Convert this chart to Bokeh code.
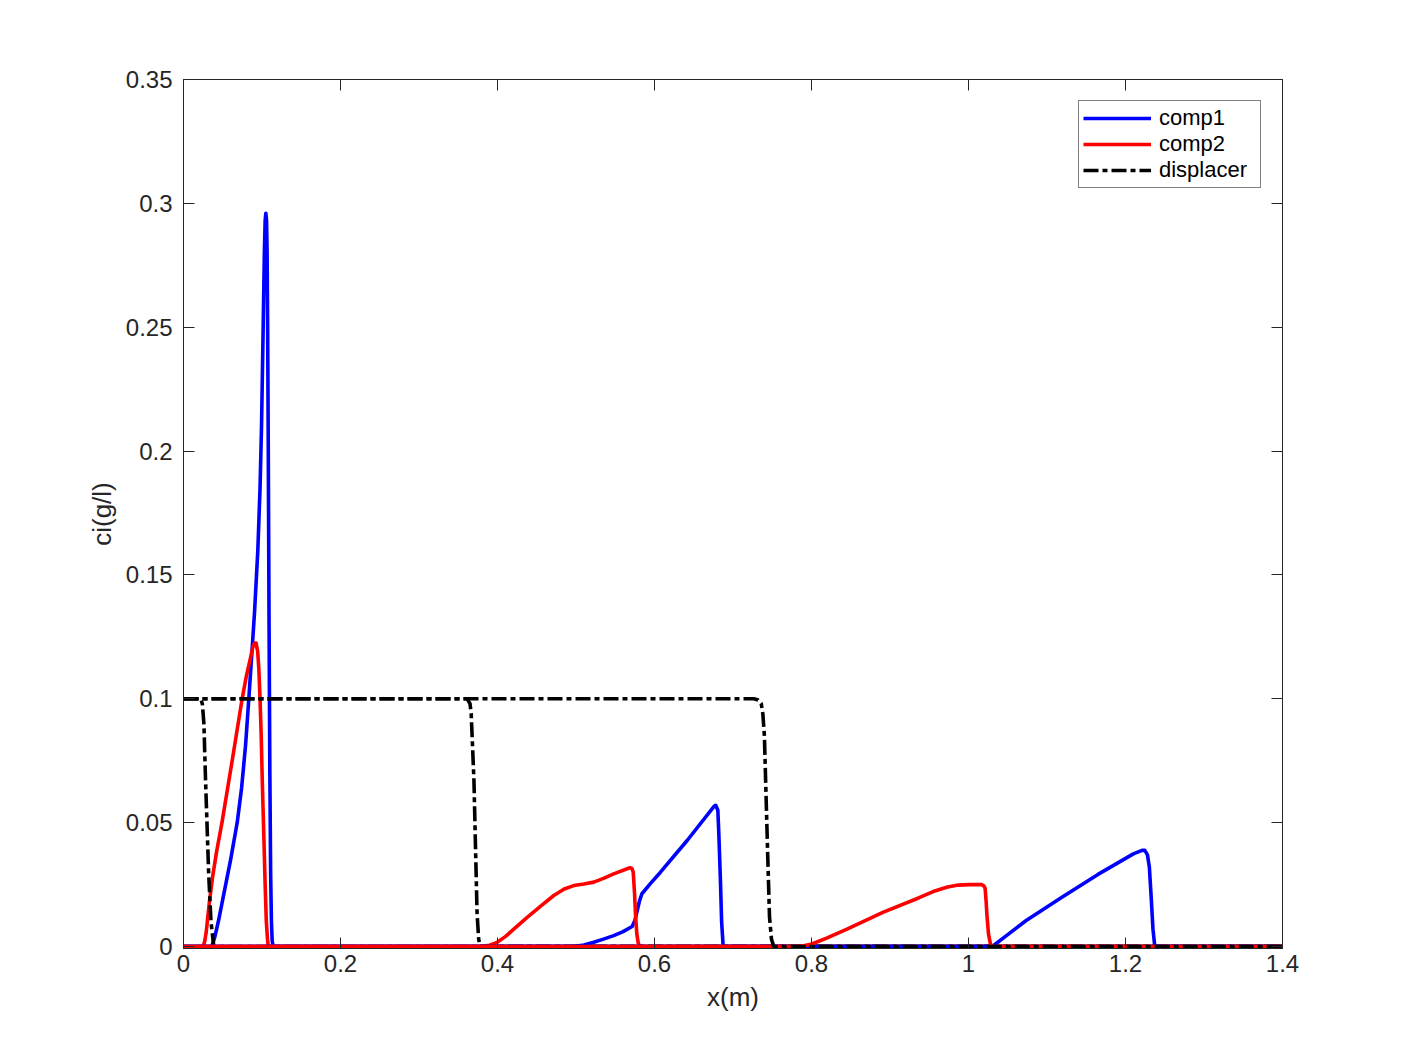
from bokeh.plotting import figure
from bokeh.models import (LinearAxis, FixedTicker, Range1d, Legend, LegendItem,
                          CustomJSTickFormatter)
from bokeh.embed import file_html
from bokeh.resources import INLINE

# ---- data ----
# snapshot 1
c1_t1_x = [0.0, 0.036, 0.040, 0.045, 0.050, 0.055, 0.060, 0.0684, 0.074, 0.079, 0.0832, 0.087, 0.0905, 0.0947, 0.0975, 0.0994, 0.1015, 0.103, 0.104, 0.1049, 0.1058, 0.1065, 0.1072, 0.108, 0.109, 0.110, 0.111, 0.112, 0.113, 0.1145, 1.4]
c1_t1_y = [0.0, 0.0, 0.004, 0.011, 0.019, 0.027, 0.035, 0.05, 0.064, 0.081, 0.1, 0.118, 0.135, 0.16, 0.185, 0.21, 0.25, 0.28, 0.293, 0.296, 0.293, 0.28, 0.25, 0.2, 0.13, 0.07, 0.03, 0.01, 0.002, 0.0, 0.0]
c2_t1_x = [0.0, 0.025, 0.027, 0.029, 0.031, 0.033, 0.037, 0.042, 0.049, 0.062, 0.0747, 0.080, 0.085, 0.088, 0.0905, 0.0925, 0.0945, 0.096, 0.0975, 0.099, 0.1005, 0.1023, 0.104, 0.1055, 0.107, 0.108, 1.4]
c2_t1_y = [0.0, 0.0, 0.002, 0.006, 0.012, 0.018, 0.028, 0.038, 0.05, 0.075, 0.1, 0.109, 0.116, 0.1205, 0.1225, 0.1225, 0.119, 0.112, 0.1, 0.085, 0.065, 0.045, 0.025, 0.01, 0.003, 0.0, 0.0]
d_t1_x = [0.0, 0.0217, 0.024, 0.026, 0.028, 0.032, 0.035, 0.0386, 1.4]
d_t1_y = [0.1, 0.1, 0.098, 0.09, 0.068, 0.03, 0.01, 0.0, 0.0]

# snapshot 2
c1_t2_x = [0.0, 0.497, 0.51, 0.5227, 0.535, 0.548, 0.56, 0.5715, 0.575, 0.578, 0.581, 0.584, 0.595, 0.6076, 0.6416, 0.6756, 0.678, 0.6807, 0.682, 0.684, 0.6855, 0.6875, 1.4]
c1_t2_y = [0.0, 0.0, 0.0006, 0.0017, 0.003, 0.0044, 0.006, 0.0081, 0.0105, 0.0145, 0.0185, 0.0213, 0.0255, 0.030, 0.0428, 0.0565, 0.057, 0.055, 0.045, 0.0266, 0.01, 0.0, 0.0]
c2_t2_x = [0.0, 0.378, 0.39, 0.3996, 0.41, 0.42, 0.4378, 0.455, 0.4717, 0.485, 0.4972, 0.51, 0.5227, 0.535, 0.548, 0.5686, 0.571, 0.5729, 0.5745, 0.5758, 0.5775, 0.5795, 0.5822, 1.4]
c2_t2_y = [0.0, 0.0, 0.0005, 0.0017, 0.004, 0.0068, 0.0118, 0.0163, 0.0206, 0.0232, 0.0246, 0.0252, 0.026, 0.0275, 0.0293, 0.0318, 0.0316, 0.030, 0.022, 0.013, 0.005, 0.001, 0.0, 0.0]
d_t2_x = [0.0, 0.3614, 0.365, 0.3665, 0.370, 0.372, 0.374, 0.376, 0.378, 1.4]
d_t2_y = [0.1, 0.1, 0.098, 0.094, 0.067, 0.040, 0.0132, 0.003, 0.0, 0.0]

# snapshot 3
c1_t3_x = [0.0, 1.0303, 1.05, 1.0735, 1.119, 1.1644, 1.21, 1.221, 1.2246, 1.228, 1.2304, 1.2327, 1.235, 1.2373, 1.4]
c1_t3_y = [0.0, 0.0, 0.0048, 0.0105, 0.0199, 0.029, 0.0374, 0.0388, 0.0388, 0.037, 0.032, 0.02, 0.007, 0.0, 0.0]
c2_t3_x = [0.0, 0.7777, 0.79, 0.8005, 0.82, 0.8459, 0.8916, 0.9371, 0.955, 0.9733, 0.987, 1.0008, 1.0166, 1.0195, 1.0212, 1.0225, 1.0234, 1.0255, 1.028, 1.0303, 1.4]
c2_t3_y = [0.0, 0.0, 0.0003, 0.001, 0.0035, 0.0071, 0.0139, 0.0197, 0.0222, 0.024, 0.0248, 0.025, 0.025, 0.0245, 0.0235, 0.018, 0.013, 0.005, 0.001, 0.0, 0.0]
d_t3_x = [0.0, 0.7266, 0.732, 0.736, 0.738, 0.740, 0.7435, 0.7465, 0.749, 0.752, 1.4]
d_t3_y = [0.1, 0.1, 0.0995, 0.098, 0.094, 0.085, 0.045, 0.012, 0.003, 0.0, 0.0]

x_ticks = [0, 0.2, 0.4, 0.6, 0.8, 1.0, 1.2, 1.4]
x_tick_labels = ["0", "0.2", "0.4", "0.6", "0.8", "1", "1.2", "1.4"]
y_ticks = [0, 0.05, 0.1, 0.15, 0.2, 0.25, 0.3, 0.35]
y_tick_labels = ["0", "0.05", "0.1", "0.15", "0.2", "0.25", "0.3", "0.35"]
series_names = ["comp1", "comp2", "displacer"]

FONT = "Liberation Sans"
AX = "#262626"

# a hair of room below zero so the zero-level lines are not half clipped
p = figure(width=1417, height=1063, output_backend="svg", toolbar_location=None,
           x_range=Range1d(0, 1.4), y_range=Range1d(-0.0008, 0.35),
           min_border_left=183, min_border_right=135, min_border_top=79, min_border_bottom=115,
           x_axis_label="x(m)", y_axis_label="ci(g/l)")
p.xgrid.visible = False
p.ygrid.visible = False
p.outline_line_color = AX
p.background_fill_color = "white"
p.border_fill_color = "white"

def style_axis(ax, ticks, labels, show_labels=True):
    ax.ticker = FixedTicker(ticks=ticks)
    if show_labels:
        ax.major_label_overrides = {t: l for t, l in zip(ticks, labels)}
    else:
        ax.formatter = CustomJSTickFormatter(code="return '';")
    ax.major_tick_in = 11
    ax.major_tick_out = 0
    ax.minor_tick_in = 0
    ax.minor_tick_out = 0
    ax.axis_line_color = AX
    ax.major_tick_line_color = AX
    ax.major_label_text_font = FONT
    ax.major_label_text_font_size = "24px"
    ax.major_label_text_color = AX
    ax.major_label_standoff = 8
    ax.axis_label_text_font = FONT
    ax.axis_label_text_font_size = "26px"
    ax.axis_label_text_font_style = "normal"
    ax.axis_label_text_color = AX

style_axis(p.xaxis[0], x_ticks, x_tick_labels)
style_axis(p.yaxis[0], y_ticks, y_tick_labels)
p.xaxis[0].major_label_standoff = 6
p.yaxis[0].major_label_standoff = 11
p.xaxis[0].axis_label_standoff = 7
p.yaxis[0].axis_label_standoff = 6

top_ax = LinearAxis()
right_ax = LinearAxis()
style_axis(top_ax, x_ticks, x_tick_labels, show_labels=False)
style_axis(right_ax, y_ticks, y_tick_labels, show_labels=False)
p.add_layout(top_ax, "above")
p.add_layout(right_ax, "right")

LW = 3.6
DASH = "15 4 5 4"
snapshots = [
    (c1_t1_x, c1_t1_y, c2_t1_x, c2_t1_y, d_t1_x, d_t1_y),
    (c1_t2_x, c1_t2_y, c2_t2_x, c2_t2_y, d_t2_x, d_t2_y),
    (c1_t3_x, c1_t3_y, c2_t3_x, c2_t3_y, d_t3_x, d_t3_y),
]
first = None
for i, (ax1, ay1, ax2, ay2, axd, ayd) in enumerate(snapshots):
    r1 = p.line(ax1, ay1, line_color="#0000ff", line_width=LW, line_join="round")
    r2 = p.line(ax2, ay2, line_color="#ff0000", line_width=LW, line_join="round")
    r3 = p.line(axd, ayd, line_color="black", line_width=LW, line_dash=DASH, line_join="round")
    if i == 0:
        first = (r1, r2, r3)

legend = Legend(items=[LegendItem(label=series_names[k], renderers=[first[k]]) for k in range(3)],
                location="top_right")
legend.margin = 21
legend.padding = 4
legend.spacing = 0
legend.glyph_width = 68
legend.glyph_height = 26
legend.label_height = 26
legend.label_width = 97
legend.label_standoff = 8
legend.label_text_font = FONT
legend.label_text_font_size = "22px"
legend.label_text_color = "black"
legend.border_line_color = "black"
legend.border_line_width = 1
legend.background_fill_color = "white"
legend.background_fill_alpha = 1
p.add_layout(legend, "center")

open("out.html", "w").write(file_html(p, INLINE))
